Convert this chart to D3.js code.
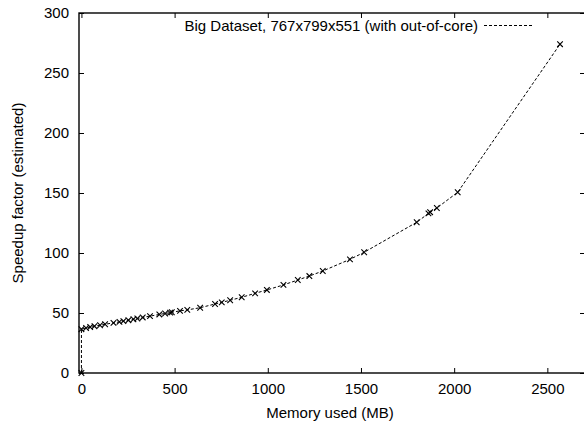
<!DOCTYPE html>
<html>
<head>
<meta charset="utf-8">
<script src="https://cdn.jsdelivr.net/npm/d3@7"></script>
<style>
  html, body { margin: 0; padding: 0; background: #fff; }
  svg { display: block; font-family: "Liberation Sans", Arial, Helvetica, sans-serif; }
</style>
</head>
<body>
<svg id="chart" width="584" height="426"></svg>
<script>
// Memory used (MB) against estimated speedup factor
const memoryMB = [0, 0, 25, 47, 70, 100, 127, 172, 204, 225, 252, 279, 300, 329, 368, 418, 449, 476, 485,
  529, 568, 637, 717, 753, 798, 860, 932, 995, 1084, 1161, 1223, 1295, 1441, 1517, 1799, 1862, 1871, 1907, 2019, 2568];
const speedup = [0, 36.5, 37.5, 38.3, 39, 39.8, 40.6, 41.8, 42.6, 43.2, 44, 44.8, 45.4, 46.3, 47.4, 48.8, 49.6, 50.3, 50.6,
  51.8, 52.6, 54.4, 57.5, 58.9, 60.6, 63.1, 66.4, 69.2, 73.4, 77.5, 80.8, 85, 94.7, 100.6, 125.6, 133, 134, 137.5, 150.6, 274];
const xTicks = [0, 500, 1000, 1500, 2000, 2500];
const yTicks = [0, 50, 100, 150, 200, 250, 300];
const seriesName = "Big Dataset, 767x799x551 (with out-of-core)";
const xTitle = "Memory used (MB)";
const yTitle = "Speedup factor (estimated)";

const data = memoryMB.map((m, i) => ({ x: m, y: speedup[i] }));

const svg = d3.select("#chart");
const plotLeft = 79, plotRight = 585, plotTop = 13, plotBottom = 373;

const x = d3.scaleLinear().domain([-13, 2702]).range([plotLeft, plotRight]);
const y = d3.scaleLinear().domain([0, 300]).range([plotBottom, plotTop]);

const tickLen = 5;
const fontSize = 15;
const fmt = d3.format("d");

// inward ticks on all four sides
const xAxisB = d3.axisBottom(x).tickValues(xTicks).tickFormat(fmt).tickSizeInner(-tickLen).tickSizeOuter(0).tickPadding(10);
const xAxisT = d3.axisTop(x).tickValues(xTicks).tickSizeInner(-tickLen).tickSizeOuter(0).tickFormat("");
const yAxisL = d3.axisLeft(y).tickValues(yTicks).tickFormat(fmt).tickSizeInner(-tickLen).tickSizeOuter(0).tickPadding(10);
const yAxisR = d3.axisRight(y).tickValues(yTicks).tickSizeInner(-tickLen).tickSizeOuter(0).tickFormat("");

function styleAxis(g) {
  g.select(".domain").remove();
  g.selectAll(".tick line").attr("stroke", "#000").attr("stroke-width", 1);
  g.selectAll(".tick text").attr("fill", "#000").attr("font-size", fontSize)
    .attr("font-family", "Liberation Sans, Arial, sans-serif");
}

svg.append("g").attr("transform", `translate(0,${plotBottom})`).call(xAxisB).call(styleAxis);
svg.append("g").attr("transform", `translate(0,${plotTop})`).call(xAxisT).call(styleAxis);
svg.append("g").attr("transform", `translate(${plotLeft},0)`).call(yAxisL).call(styleAxis);
svg.append("g").attr("transform", `translate(${plotRight},0)`).call(yAxisR).call(styleAxis);

// frame
svg.append("rect")
  .attr("x", plotLeft).attr("y", plotTop)
  .attr("width", plotRight - plotLeft).attr("height", plotBottom - plotTop)
  .attr("fill", "none").attr("stroke", "#000").attr("stroke-width", 1.4);

// axis titles
svg.append("text")
  .attr("x", 330).attr("y", 418)
  .attr("text-anchor", "middle").attr("font-size", fontSize).attr("fill", "#000")
  .text(xTitle);
svg.append("text")
  .attr("transform", `translate(23,${(plotTop + plotBottom) / 2}) rotate(-90)`)
  .attr("text-anchor", "middle").attr("font-size", fontSize).attr("fill", "#000")
  .text(yTitle);

// dashed series line
const line = d3.line().x(d => x(d.x)).y(d => y(d.y));
svg.append("path")
  .datum(data)
  .attr("d", line)
  .attr("fill", "none")
  .attr("stroke", "#000")
  .attr("stroke-width", 1)
  .attr("stroke-dasharray", "3,2");

// cross markers
const s = 2.8;
svg.append("g").selectAll("path.pt")
  .data(data)
  .join("path")
  .attr("class", "pt")
  .attr("d", d => {
    const px = x(d.x), py = y(d.y);
    return `M${px - s},${py - s}L${px + s},${py + s}M${px - s},${py + s}L${px + s},${py - s}`;
  })
  .attr("stroke", "#000")
  .attr("stroke-width", 1.1)
  .attr("fill", "none");

// legend
const legend = svg.append("g");
legend.append("text")
  .attr("x", 478).attr("y", 31)
  .attr("text-anchor", "end").attr("font-size", fontSize).attr("fill", "#000")
  .text(seriesName);
legend.append("line")
  .attr("x1", 484).attr("x2", 532).attr("y1", 25.5).attr("y2", 25.5)
  .attr("stroke", "#000").attr("stroke-width", 1).attr("stroke-dasharray", "3,2");
</script>
</body>
</html>
